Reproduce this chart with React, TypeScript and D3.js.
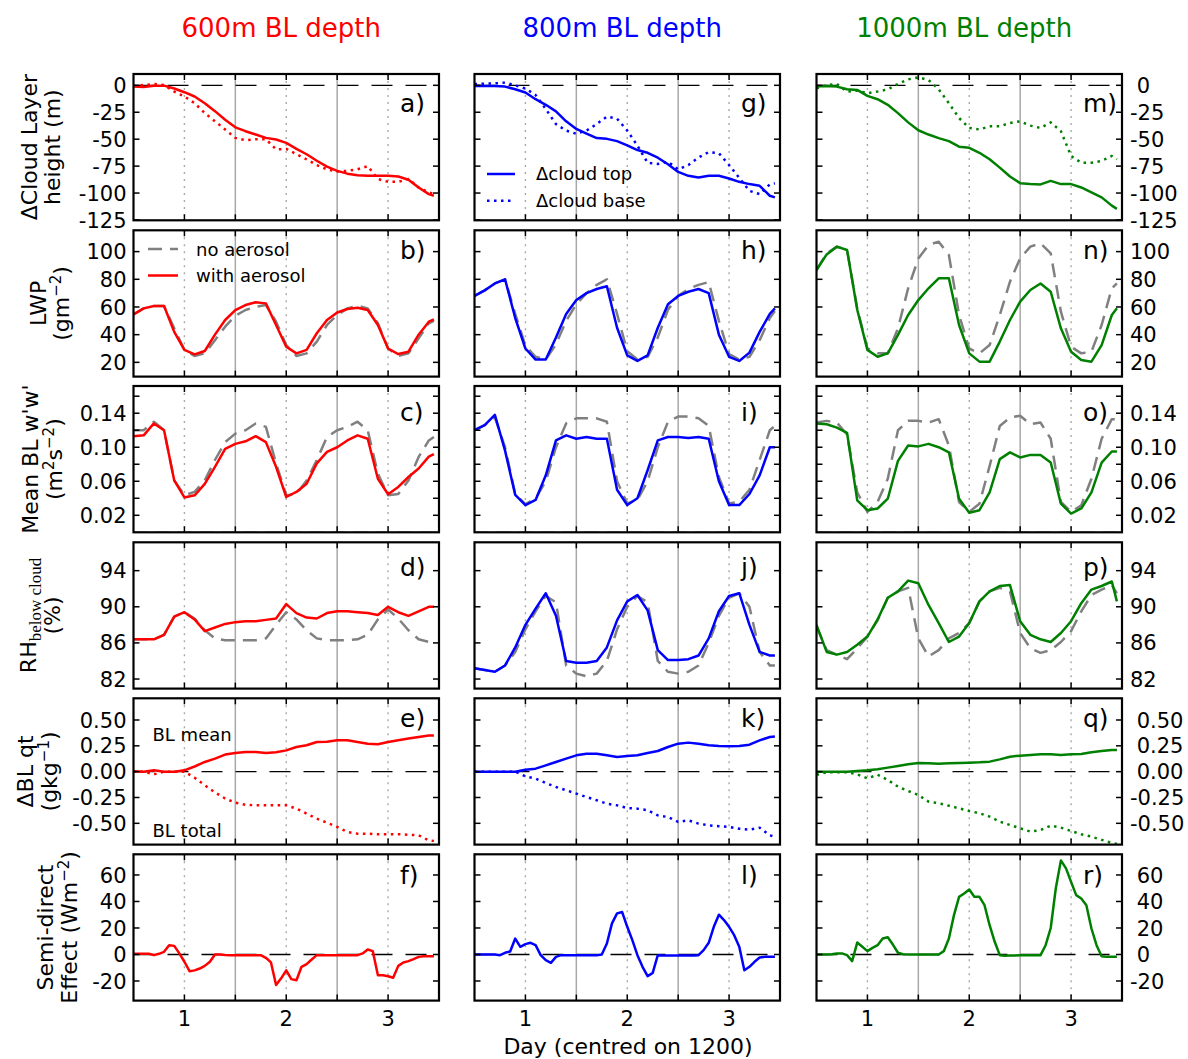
import React from 'react';
import * as d3 from 'd3';

// time axis in days; most series read every 0.1 day, the semi-direct row every 0.05 day
const DAYS = [0.5, 0.6, 0.7, 0.8, 0.9, 1.0, 1.1, 1.2, 1.3, 1.4, 1.5, 1.6, 1.7, 1.8, 1.9, 2.0, 2.1, 2.2, 2.3, 2.4, 2.5, 2.6, 2.7, 2.8, 2.9, 3.0, 3.1, 3.2, 3.3, 3.4, 3.45];
const DAYS_FINE = [0.5, 0.55, 0.6, 0.65, 0.7, 0.75, 0.8, 0.85, 0.9, 0.95, 1.0, 1.05, 1.1, 1.15, 1.2, 1.25, 1.3, 1.35, 1.4, 1.45, 1.5, 1.55, 1.6, 1.65, 1.7, 1.75, 1.8, 1.85, 1.9, 1.95, 2.0, 2.05, 2.1, 2.15, 2.2, 2.25, 2.3, 2.35, 2.4, 2.45, 2.5, 2.55, 2.6, 2.65, 2.7, 2.75, 2.8, 2.85, 2.9, 2.95, 3.0, 3.05, 3.1, 3.15, 3.2, 3.25, 3.3, 3.35, 3.4, 3.45];

// 600m BL depth
const A_TOP = [-1.2, -1.5, -0.3, -0.3, -3, -6.4, -10.4, -16.6, -24, -32, -39, -42.6, -45.7, -48.8, -50.3, -53.4, -59, -64, -70, -75.5, -79.4, -82, -83.4, -84, -84, -84, -84.7, -87.7, -94.8, -101, -102.5];
const A_BASE = [-0.6, 0.3, 1.2, 0.3, -5.8, -10.4, -16.6, -25.8, -33.4, -41, -48.8, -51, -50, -50, -59.5, -59, -64, -68.7, -74, -78, -80, -79.4, -78, -75, -87, -89.6, -89.6, -87, -94.8, -99.4, -101];
const B_NO = [54.7, 59, 60.7, 60.7, 44.6, 29, 24.6, 26.5, 36, 45.8, 53.7, 57.8, 60.2, 61.4, 49.4, 32.5, 24.6, 26.5, 35, 47, 54.2, 59, 61, 59, 48.2, 30, 24.6, 26.5, 37.3, 48.2, 50];
const B_AER = [54.7, 59, 60.7, 60.7, 42, 29, 25.8, 28.2, 40, 50.6, 57.8, 61.4, 63.4, 62.6, 47, 31.3, 26.5, 29, 41, 50.6, 56, 58.5, 59.5, 57.8, 47, 30, 26, 27.7, 40, 49.4, 51];
const C_NO = [0.12, 0.12, 0.13, 0.12, 0.061, 0.0435, 0.0475, 0.061, 0.085, 0.106, 0.116, 0.12, 0.128, 0.124, 0.081, 0.0435, 0.045, 0.061, 0.085, 0.112, 0.12, 0.124, 0.13, 0.12, 0.069, 0.0435, 0.045, 0.061, 0.0886, 0.108, 0.112];
const C_AER = [0.113, 0.114, 0.128, 0.12, 0.061, 0.041, 0.0435, 0.057, 0.077, 0.098, 0.104, 0.107, 0.113, 0.106, 0.077, 0.0415, 0.0475, 0.057, 0.081, 0.0945, 0.1, 0.108, 0.114, 0.11, 0.063, 0.0447, 0.0533, 0.065, 0.075, 0.089, 0.092];
const D_NO = [86.4, 86.4, 86.4, 86.9, 88.9, 89.4, 88.7, 87.4, 86.5, 86.3, 86.3, 86.3, 86.3, 86.5, 88, 89.4, 88.6, 87.4, 86.5, 86.3, 86.3, 86.3, 86.4, 86.9, 88.6, 89.7, 88.7, 87.4, 86.4, 86.1, 86.0];
const D_AER = [86.4, 86.4, 86.4, 86.9, 88.9, 89.4, 88.6, 87.3, 87.7, 88.1, 88.3, 88.4, 88.4, 88.55, 88.7, 90.3, 89.3, 88.8, 88.7, 89.3, 89.5, 89.5, 89.4, 89.3, 89.1, 90.0, 89.4, 89.0, 89.5, 90.0, 90.0];
const E_MEAN = [0.003, 0, 0.013, 0, 0, 0.013, 0.05, 0.094, 0.126, 0.165, 0.18, 0.19, 0.19, 0.18, 0.187, 0.206, 0.239, 0.255, 0.287, 0.29, 0.303, 0.303, 0.287, 0.27, 0.265, 0.287, 0.303, 0.32, 0.335, 0.35, 0.35];
const E_TOTAL = [0, 0, -0.026, 0, 0, 0, -0.058, -0.132, -0.2, -0.26, -0.3, -0.32, -0.326, -0.326, -0.326, -0.326, -0.358, -0.406, -0.455, -0.494, -0.535, -0.584, -0.6, -0.6, -0.606, -0.606, -0.606, -0.61, -0.616, -0.665, -0.67];
const F_SDE = [0.5, 0.5, 0.5, 0.5, -0.5, 0.5, 2, 7, 6.5, 0.8, -5.5, -12.6, -12, -10.6, -8.6, -5.5, 0, 0, -0.3, -0.5, -0.5, -0.5, -0.5, -0.5, -0.5, -0.5, -2.5, -6, -23, -18, -12, -18.6, -19.4, -9.3, -7.3, -3.8, -0.5, -0.5, -0.5, -0.5, -0.5, -0.5, -0.5, -0.5, -0.5, 0.8, 3.8, 2.5, -15.6, -15.6, -16.4, -17.6, -8.6, -6, -5, -3.5, -1.8, -1.3, -1.3, -1.3];

// 800m BL depth
const G_TOP = [-0.6, -0.6, -0.6, -1.2, -3.7, -6.7, -12.9, -18.1, -24.2, -33.4, -40.5, -44.8, -49, -49.7, -51.8, -55.8, -60.1, -62.6, -67.2, -73.3, -80.4, -84, -85.6, -84, -84, -86.5, -89.6, -91.7, -93.3, -102.5, -104];
const G_BASE = [1.2, 1.5, 1.8, 2.5, 0, -3, -9, -22, -36, -42, -45, -42, -36, -29, -31, -42, -56, -72, -73, -71, -78, -74, -67, -62, -63, -74, -86, -98, -101, -92, -91];
const H_NO = [68, 72, 77, 80, 55, 32, 24, 22, 33, 50, 62, 70, 76, 80, 55, 28, 22, 24, 38, 58, 68, 73, 76, 78, 50, 26, 22, 24, 36, 52, 57];
const H_AER = [68, 72, 77, 80, 52, 30, 22, 22, 38, 55, 65, 70, 73, 75, 45, 25, 21, 25, 45, 62, 68, 71, 73, 70, 40, 24, 21, 27, 42, 55, 59];
const I_NO = [0.12, 0.126, 0.135, 0.1, 0.045, 0.033, 0.04, 0.06, 0.1, 0.128, 0.134, 0.134, 0.134, 0.13, 0.06, 0.034, 0.038, 0.06, 0.1, 0.13, 0.136, 0.136, 0.134, 0.125, 0.065, 0.034, 0.036, 0.05, 0.085, 0.12, 0.125];
const I_AER = [0.12, 0.126, 0.138, 0.096, 0.044, 0.032, 0.038, 0.067, 0.108, 0.114, 0.11, 0.112, 0.11, 0.11, 0.05, 0.032, 0.04, 0.073, 0.108, 0.112, 0.112, 0.111, 0.112, 0.11, 0.06, 0.032, 0.032, 0.045, 0.067, 0.1, 0.1];
const J_NO = [83.2, 83.0, 82.8, 83.5, 85, 87.5, 89.5, 91.2, 90.5, 83.5, 82.6, 82.3, 82.6, 84, 87.5, 90, 91.2, 90.5, 84, 82.8, 82.6, 82.8, 83.5, 86, 89, 91, 91.5, 90, 85, 83.5, 83.5];
const J_AER = [83.2, 83.0, 82.8, 83.5, 85.5, 88, 89.8, 91.5, 89, 84, 83.8, 83.8, 84, 85.5, 88.5, 90.6, 91.3, 89.6, 85.2, 84.1, 84.1, 84.2, 84.6, 86.5, 89.5, 91.2, 91.5, 88, 85, 84.6, 84.6];
const K_MEAN = [0, 0, 0, 0, 0, 0.019, 0.029, 0.061, 0.094, 0.126, 0.158, 0.174, 0.174, 0.158, 0.142, 0.152, 0.158, 0.181, 0.2, 0.239, 0.271, 0.281, 0.271, 0.255, 0.248, 0.245, 0.248, 0.261, 0.303, 0.335, 0.34];
const K_TOTAL = [0, 0, 0, 0, 0, -0.045, -0.068, -0.11, -0.148, -0.18, -0.213, -0.245, -0.277, -0.31, -0.326, -0.352, -0.358, -0.374, -0.423, -0.439, -0.487, -0.471, -0.503, -0.519, -0.529, -0.535, -0.552, -0.561, -0.542, -0.616, -0.63];
const L_SDE = [0, 0, 0, 0, 0, -0.5, 1.3, 2.3, 12, 5.8, 7.8, 8.8, 7.1, -0.5, -4.3, -6.3, -1.8, -0.5, -0.5, -0.5, -0.5, -0.5, -0.5, -0.5, -0.5, 0, 8.3, 23.5, 31, 32, 20.9, 10.8, -0.5, -9.3, -16.4, -13.9, -0.5, -0.8, -0.8, -0.8, -0.8, -0.8, -0.8, -0.8, -0.5, 3.3, 8.8, 20.9, 30, 26, 20.9, 14.6, 5.8, -11.9, -9.3, -5.5, -2.3, -1.8, -1.8, -1.8];

// 1000m BL depth
const M_TOP = [-1.2, -0.6, -1.2, -3.7, -4.3, -9.8, -12.9, -18.1, -25.8, -34.4, -41.7, -45.7, -49, -51.8, -57, -58, -62.6, -68.7, -76.4, -84.7, -90.8, -91.7, -92, -88.7, -91.7, -91.7, -94.8, -99.4, -104, -111.7, -114.7];
const M_BASE = [-2.8, 0.3, 1.2, -5.8, -4.9, -7.4, -5.8, -3.7, 1.2, 5.5, 7.4, 4.9, -3.7, -16.6, -30.4, -39.6, -41, -38, -38, -35, -33.4, -37.4, -39.6, -34.4, -42.6, -65.6, -71.8, -71.8, -70.2, -65.6, -68.7];
const N_NO = [86.7, 98.8, 103.6, 101.2, 59, 30, 26.5, 26.5, 44.6, 73.5, 95, 104.8, 107.2, 97.6, 54.2, 30, 26.5, 32.5, 54.2, 78.3, 95.2, 103.6, 106, 98.8, 56.6, 31.3, 26.5, 27.7, 47, 73.5, 77];
const N_AER = [86.7, 98, 103.6, 101.2, 58, 29, 24, 26.5, 39.8, 54.2, 65, 73.5, 80.7, 80.7, 47, 26.5, 20.5, 20.5, 35, 50.6, 63.9, 72.3, 77, 71, 44.6, 27.7, 21.7, 20.5, 32.5, 54.2, 59];
const O_NO = [0.129, 0.131, 0.129, 0.115, 0.047, 0.024, 0.0356, 0.063, 0.12, 0.131, 0.131, 0.129, 0.133, 0.102, 0.0356, 0.024, 0.0336, 0.078, 0.125, 0.135, 0.137, 0.127, 0.129, 0.11, 0.0356, 0.024, 0.0317, 0.063, 0.11, 0.133, 0.133];
const O_AER = [0.128, 0.127, 0.123, 0.117, 0.0375, 0.026, 0.028, 0.0395, 0.084, 0.102, 0.101, 0.104, 0.1, 0.094, 0.0395, 0.023, 0.026, 0.047, 0.086, 0.094, 0.088, 0.091, 0.091, 0.082, 0.0336, 0.022, 0.028, 0.047, 0.082, 0.095, 0.095];
const P_NO = [87.8, 85.2, 84.7, 84.2, 85.4, 86.7, 88.5, 91.0, 91.7, 92.1, 86.5, 84.5, 85.2, 86.5, 87.1, 88.2, 90.6, 91.7, 92.1, 91.7, 87.1, 85.4, 84.9, 85.2, 86.1, 87.3, 89.5, 91.3, 91.9, 92.4, 91.5];
const P_AER = [88, 85.0, 84.7, 85.0, 85.8, 86.7, 88.6, 91.0, 91.7, 92.9, 92.6, 90.2, 88.2, 86.1, 86.7, 88.2, 90.6, 91.7, 92.3, 92.4, 88.4, 86.9, 86.4, 86.1, 87.1, 88.4, 90.4, 91.9, 92.3, 92.8, 90.6];
const Q_MEAN = [0, 0, 0, 0, 0.006, 0.013, 0.023, 0.039, 0.055, 0.071, 0.084, 0.081, 0.077, 0.081, 0.084, 0.087, 0.09, 0.097, 0.119, 0.145, 0.155, 0.161, 0.168, 0.168, 0.161, 0.168, 0.171, 0.187, 0.2, 0.21, 0.21];
const Q_TOTAL = [-0.03, -0.006, -0.006, -0.006, -0.026, -0.065, -0.03, -0.08, -0.145, -0.187, -0.226, -0.29, -0.306, -0.33, -0.355, -0.38, -0.403, -0.435, -0.484, -0.516, -0.548, -0.58, -0.565, -0.523, -0.542, -0.574, -0.606, -0.629, -0.66, -0.69, -0.7];
const R_SDE = [0, 0, 0, 0.25, 0.8, 0.8, -0.5, -5, 9, 5.8, 2.5, 5, 7, 12, 13, 7.5, 1.3, 0.25, 0, 0, 0, 0, 0, 0, 0, 2.5, 12, 29.7, 43.5, 46, 49, 43.5, 43.5, 37.2, 22.1, 9.6, -0.5, -1, -0.8, -0.8, -0.5, -0.5, -0.5, -0.5, -0.5, 7, 20, 50, 71, 65, 54.8, 44.8, 42.3, 37.2, 19.6, 7, -1.3, -1.8, -1.8, -1.8];

const TITLES = ['600m BL depth', '800m BL depth', '1000m BL depth'];
const LETTERS = [
  ['a)', 'b)', 'c)', 'd)', 'e)', 'f)'],
  ['g)', 'h)', 'i)', 'j)', 'k)', 'l)'],
  ['m)', 'n)', 'o)', 'p)', 'q)', 'r)'],
];
const X_TICKS = [1, 1.5, 2, 2.5, 3];
const X_LABELS = [1, 2, 3];
const ROW_TICKS = [
  [-125, -100, -75, -50, -25, 0],
  [20, 40, 60, 80, 100],
  [0.02, 0.04, 0.06, 0.08, 0.1, 0.12, 0.14, 0.16],
  [82, 86, 90, 94],
  [-0.5, -0.25, 0, 0.25, 0.5],
  [-20, 0, 20, 40, 60],
];
const ROW_LABELLED = [
  [-125, -100, -75, -50, -25, 0],
  [20, 40, 60, 80, 100],
  [0.02, 0.06, 0.1, 0.14],
  [82, 86, 90, 94],
  [-0.5, -0.25, 0, 0.25, 0.5],
  [-20, 0, 20, 40, 60],
];
const ROW_DOMAINS = [[-125.3, 10.5], [9.7, 115.4], [0, 0.172], [80.94, 97.14], [-0.706, 0.71], [-34.8, 75.6]];

const RED = '#ff0000';
const BLUE = '#0000ff';
const GREEN = '#008000';
const GREY = '#808080';
const REF = '#a8a8a8';
const COLOURS = [RED, BLUE, GREEN];

const FONT = 'DejaVu Sans';
const COL_LEFT = [133.5, 474.5, 816.5];
const PANEL_W = 305.5;
const ROW_TOP = [74, 230.3, 386, 542.3, 698.3, 854.3];
const PANEL_H = 146.3;
const LETTER_DY = [38, 29, 35, 34, 29, 30];
const YLAB_X = [[37, 60], [46, 69], [38, 62], [36, 60], [33, 57], [53, 77]];

type Style = 'solid' | 'dotted' | 'dashed';
interface Series { x: number[]; y: number[]; color: string; style: Style }

const s = (x: number[], y: number[], color: string, style: Style): Series => ({ x, y, color, style });

const PANELS: Series[][][] = [
  [
    [s(DAYS, A_BASE, RED, 'dotted'), s(DAYS, A_TOP, RED, 'solid')],
    [s(DAYS, B_NO, GREY, 'dashed'), s(DAYS, B_AER, RED, 'solid')],
    [s(DAYS, C_NO, GREY, 'dashed'), s(DAYS, C_AER, RED, 'solid')],
    [s(DAYS, D_NO, GREY, 'dashed'), s(DAYS, D_AER, RED, 'solid')],
    [s(DAYS, E_TOTAL, RED, 'dotted'), s(DAYS, E_MEAN, RED, 'solid')],
    [s(DAYS_FINE, F_SDE, RED, 'solid')],
  ],
  [
    [s(DAYS, G_BASE, BLUE, 'dotted'), s(DAYS, G_TOP, BLUE, 'solid')],
    [s(DAYS, H_NO, GREY, 'dashed'), s(DAYS, H_AER, BLUE, 'solid')],
    [s(DAYS, I_NO, GREY, 'dashed'), s(DAYS, I_AER, BLUE, 'solid')],
    [s(DAYS, J_NO, GREY, 'dashed'), s(DAYS, J_AER, BLUE, 'solid')],
    [s(DAYS, K_TOTAL, BLUE, 'dotted'), s(DAYS, K_MEAN, BLUE, 'solid')],
    [s(DAYS_FINE, L_SDE, BLUE, 'solid')],
  ],
  [
    [s(DAYS, M_BASE, GREEN, 'dotted'), s(DAYS, M_TOP, GREEN, 'solid')],
    [s(DAYS, N_NO, GREY, 'dashed'), s(DAYS, N_AER, GREEN, 'solid')],
    [s(DAYS, O_NO, GREY, 'dashed'), s(DAYS, O_AER, GREEN, 'solid')],
    [s(DAYS, P_NO, GREY, 'dashed'), s(DAYS, P_AER, GREEN, 'solid')],
    [s(DAYS, Q_TOTAL, GREEN, 'dotted'), s(DAYS, Q_MEAN, GREEN, 'solid')],
    [s(DAYS_FINE, R_SDE, GREEN, 'solid')],
  ],
];

const DASH: Record<Style, string | undefined> = { solid: undefined, dashed: '14,8', dotted: '2.5,4.5' };

const fmt = (row: number, v: number) => (row === 2 || row === 4 ? v.toFixed(2) : String(v));
const HAS_NEG = [true, false, false, false, true, true];

// superscript followed by the rest of the line, which drops back to the baseline
const up = (t: string) => <tspan dy={-8} fontSize={15}>{t}</tspan>;
const down = (t: string) => <tspan dy={8}>{t}</tspan>;

function yLabelLines(row: number): React.ReactNode[] {
  switch (row) {
    case 0: return ['\u0394Cloud Layer', 'height (m)'];
    case 1: return ['LWP', <>(gm{up('\u22122')}{down(')')}</>];
    case 2: return ["Mean BL w'w'", <>(m{up('2')}{down('s')}{up('\u22122')}{down(')')}</>];
    case 3: return [
      <>RH<tspan dy={5} fontSize={17} fontFamily="Liberation Serif">below cloud</tspan></>,
      '(%)',
    ];
    case 4: return ['\u0394BL qt', <>(gkg{up('\u22121')}{down(')')}</>];
    default: return ['Semi-direct', <>Effect (Wm{up('\u22122')}{down(')')}</>];
  }
}

function Panel({ col, row }: { col: number; row: number }) {
  const left = COL_LEFT[col];
  const top = ROW_TOP[row];
  const right = left + PANEL_W;
  const bottom = top + PANEL_H;
  const x = d3.scaleLinear().domain([0.5, 3.5]).range([left, right]);
  const y = d3.scaleLinear().domain(ROW_DOMAINS[row]).range([bottom, top]);
  const clipId = `clip-${col}-${row}`;
  const series = PANELS[col][row];
  const line = (sr: Series) =>
    d3.line<number>().x((_, i) => x(sr.x[i])).y((v) => y(v))(sr.y) || '';
  const tickLen = 6;

  return (
    <g>
      <defs>
        <clipPath id={clipId}>
          <rect x={left} y={top} width={PANEL_W} height={PANEL_H} />
        </clipPath>
      </defs>
      <g clipPath={`url(#${clipId})`}>
        {[1, 2, 3].map((d) => (
          <line key={`d${d}`} x1={x(d)} x2={x(d)} y1={top} y2={bottom} stroke={REF} strokeWidth={1.4} strokeDasharray="2,5" />
        ))}
        {[1.5, 2.5].map((d) => (
          <line key={`n${d}`} x1={x(d)} x2={x(d)} y1={top} y2={bottom} stroke={REF} strokeWidth={1.5} />
        ))}
        {(row === 0 || row === 4 || row === 5) && (
          <line x1={left} x2={right} y1={y(0)} y2={y(0)} stroke="#000" strokeWidth={1.3} strokeDasharray="21,13" />
        )}
        {row === 2 && (
          <line x1={left} x2={right} y1={y(0)} y2={y(0)} stroke="#c8c8c8" strokeWidth={2.5} strokeDasharray="14,8" />
        )}
        {series.map((sr, i) => (
          <path key={i} d={line(sr)} fill="none" stroke={sr.color} strokeWidth={2.5}
            strokeDasharray={DASH[sr.style]} strokeLinejoin="round" />
        ))}
      </g>
      <rect x={left} y={top} width={PANEL_W} height={PANEL_H} fill="none" stroke="#000" strokeWidth={2.2} />
      {X_TICKS.map((d) => (
        <g key={`xt${d}`} stroke="#000" strokeWidth={1.5}>
          <line x1={x(d)} x2={x(d)} y1={bottom} y2={bottom - tickLen} />
          <line x1={x(d)} x2={x(d)} y1={top} y2={top + tickLen} />
        </g>
      ))}
      {ROW_TICKS[row].map((v) => (
        <g key={`yt${v}`} stroke="#000" strokeWidth={1.5}>
          <line x1={left} x2={left + tickLen} y1={y(v)} y2={y(v)} />
          <line x1={right} x2={right - tickLen} y1={y(v)} y2={y(v)} />
        </g>
      ))}
      {col !== 1 && ROW_LABELLED[row].map((v) => (
        <text key={`yl${v}`}
          x={col === 0 ? left - 7 : right + 8 + (HAS_NEG[row] && v >= 0 ? 6.7 : 0)}
          y={y(v)} dy="0.36em" textAnchor={col === 0 ? 'end' : 'start'}
          fontSize={21} fontFamily={FONT} fill="#000">
          {fmt(row, v)}
        </text>
      ))}
      {row === 5 && X_LABELS.map((d) => (
        <text key={`xl${d}`} x={x(d)} y={bottom + 25} textAnchor="middle" fontSize={21} fontFamily={FONT}>{d}</text>
      ))}
      <text x={right - 39} y={top + LETTER_DY[row]} fontSize={25} fontFamily={FONT}>{LETTERS[col][row]}</text>
    </g>
  );
}

export default function App() {
  const W = 1188;
  const H = 1059;
  return (
    <svg width={W} height={H} viewBox={`0 0 ${W} ${H}`} style={{ position: 'absolute', left: 0, top: 0, background: '#fff' }}
      fontFamily={FONT}>
      <rect x={0} y={0} width={W} height={H} fill="#fff" />
      {TITLES.map((t, c) => (
        <text key={t} x={COL_LEFT[c] + PANEL_W / 2 - 5} y={36.5} textAnchor="middle" fontSize={26} fill={COLOURS[c]}>{t}</text>
      ))}
      {[0, 1, 2].map((c) => [0, 1, 2, 3, 4, 5].map((r) => <Panel key={`${c}-${r}`} col={c} row={r} />))}
      {[0, 1, 2, 3, 4, 5].map((r) => {
        const cy = ROW_TOP[r] + PANEL_H / 2;
        const lines = yLabelLines(r);
        return lines.map((ln, i) => (
          <text key={`yl-${r}-${i}`} transform={`translate(${YLAB_X[r][i]},${cy}) rotate(-90)`}
            textAnchor="middle" fontSize={22}>{ln}</text>
        ));
      })}
      <text x={628} y={1054} textAnchor="middle" fontSize={22}>Day (centred on 1200)</text>

      {/* legend, panel b */}
      <line x1={148} x2={178} y1={249} y2={249} stroke={GREY} strokeWidth={2.5} strokeDasharray="14,8" />
      <text x={196} y={255.5} fontSize={18}>no aerosol</text>
      <line x1={148} x2={178} y1={275.5} y2={275.5} stroke={RED} strokeWidth={2.5} />
      <text x={196} y={282} fontSize={18}>with aerosol</text>

      {/* legend, panel g */}
      <line x1={487} x2={515} y1={174} y2={174} stroke={BLUE} strokeWidth={2.5} />
      <text x={536} y={180} fontSize={18}>{'\u0394cloud top'}</text>
      <line x1={487} x2={515} y1={200.7} y2={200.7} stroke={BLUE} strokeWidth={2.5} strokeDasharray="2.5,4.5" />
      <text x={536} y={207} fontSize={18}>{'\u0394cloud base'}</text>

      {/* panel e annotations */}
      <text x={152.5} y={740.5} fontSize={18}>BL mean</text>
      <text x={152.5} y={837} fontSize={18}>BL total</text>
    </svg>
  );
}
